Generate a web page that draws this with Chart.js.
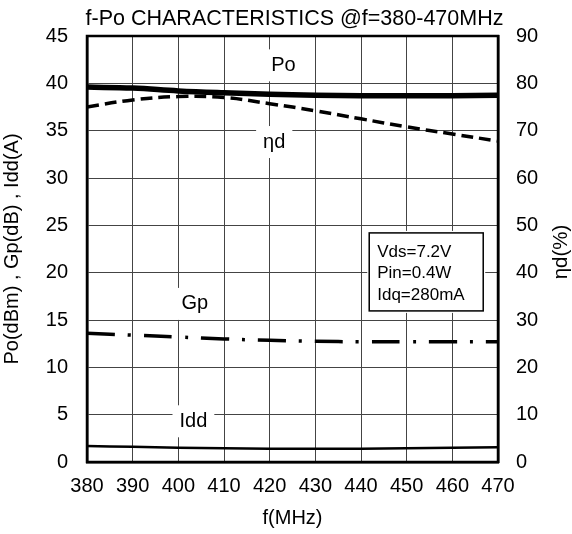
<!DOCTYPE html>
<html>
<head>
<meta charset="utf-8">
<script src="https://cdn.jsdelivr.net/npm/chart.js@4"></script>
<style>
  html, body { margin: 0; padding: 0; background: #fff; }
  #wrap { width: 572px; height: 534px; }
</style>
</head>
<body>
<div id="wrap"><canvas id="fPo"></canvas></div>
<script>
const freq = [380, 390, 400, 410, 420, 430, 440, 450, 460, 470];
const po   = [39.6, 39.5, 39.2, 39.0, 38.85, 38.75, 38.7, 38.7, 38.7, 38.75];
const eff  = [75.0, 76.5, 77.2, 77.0, 75.7, 74.2, 72.5, 70.8, 69.3, 67.8];
const gp   = [13.6, 13.4, 13.2, 13.0, 12.85, 12.75, 12.7, 12.7, 12.7, 12.7];
const idd  = [1.7, 1.6, 1.5, 1.45, 1.4, 1.4, 1.4, 1.45, 1.5, 1.55];

// text labels placed in data units (x, left-axis y)
const curveLabels = [
  { text: "Po",  x: 423.0, y: 41.9 },
  { text: "ηd",  x: 421.0, y: 33.8 },
  { text: "Gp",  x: 403.6, y: 16.7 },
  { text: "Idd", x: 403.3, y: 4.3 }
];
const condLines = ["Vds=7.2V", "Pin=0.4W", "Idq=280mA"];
const chartTitle = "f-Po CHARACTERISTICS @f=380-470MHz";
const rightTitle = "ηd(%)";

const FONT = "'Liberation Sans', Arial, sans-serif";

const overlay = {
  id: "overlay",
  afterDatasetsDraw(chart) {
    const ctx = chart.ctx;
    const xs = chart.scales.x, ys = chart.scales.y;
    const area = chart.chartArea;
    ctx.save();
    ctx.font = "20px " + FONT;
    ctx.textAlign = "center";
    ctx.textBaseline = "middle";
    curveLabels.forEach(l => {
      const px = xs.getPixelForValue(l.x), py = ys.getPixelForValue(l.y);
      const w = ctx.measureText(l.text).width + 14;
      ctx.fillStyle = "#fff";
      ctx.fillRect(px - w / 2, py - 16, w, 32);
      ctx.fillStyle = "#000";
      ctx.fillText(l.text, px, py);
    });
    // conditions box
    const bx = xs.getPixelForValue(441.8), by = ys.getPixelForValue(24.2);
    const bw = 114, bh = 78;
    ctx.fillStyle = "#fff";
    ctx.fillRect(bx - 2, by - 2, bw + 4, bh + 4);
    ctx.strokeStyle = "#000";
    ctx.lineWidth = 1.5;
    ctx.strokeRect(bx, by, bw, bh);
    ctx.fillStyle = "#000";
    ctx.font = "17px " + FONT;
    ctx.textAlign = "left";
    condLines.forEach((t, i) => ctx.fillText(t, bx + 8, by + 19 + i * 21.5));
    // outer frame
    ctx.lineWidth = 2.5;
    ctx.strokeRect(area.left, area.top, area.right - area.left, area.bottom - area.top);
    // chart title
    ctx.font = "21.5px " + FONT;
    ctx.textAlign = "center";
    ctx.textBaseline = "alphabetic";
    ctx.fillText(chartTitle, 294.5, 25);
    // right axis title, reading bottom to top like the left one
    ctx.font = "20.5px " + FONT;
    ctx.textBaseline = "middle";
    ctx.translate(561, 252);
    ctx.rotate(-Math.PI / 2);
    ctx.fillText(rightTitle, 0, 0);
    ctx.restore();
  }
};

const tickFont = { family: FONT, size: 20 };

new Chart(document.getElementById("fPo"), {
  type: "line",
  data: {
    datasets: [
      { label: "Po", data: po, yAxisID: "y", borderWidth: 5.5 },
      { label: "ηd", data: eff, yAxisID: "y2", borderWidth: 3.5, borderDash: [12, 6] },
      { label: "Gp", data: gp, yAxisID: "y", borderWidth: 3.5, borderDash: [28, 13, 3, 13] },
      { label: "Idd", data: idd, yAxisID: "y", borderWidth: 2.5 }
    ].map(d => Object.assign(d, {
      data: d.data.map((v, i) => ({ x: freq[i], y: v })),
      borderColor: "#000", pointRadius: 0, tension: 0.4, fill: false
    }))
  },
  options: {
    responsive: true,
    maintainAspectRatio: false,
    animation: false,
    layout: { padding: { top: 36 } },
    plugins: {
      legend: { display: false },
      tooltip: { enabled: false },
      title: { display: false }
    },
    scales: {
      x: {
        type: "linear", min: 380, max: 470,
        ticks: { stepSize: 10, color: "#000", font: tickFont, padding: 12 },
        grid: { color: "#444", lineWidth: 1, drawTicks: false },
        border: { color: "#000", width: 2.5 },
        title: { display: true, text: "f(MHz)", color: "#000", font: tickFont, padding: { top: 2 } },
        afterFit(s) { s.height = 72; }
      },
      y: {
        position: "left", min: 0, max: 45,
        ticks: { stepSize: 5, color: "#000", font: tickFont, padding: 19 },
        grid: { color: "#444", lineWidth: 1, drawTicks: false },
        border: { color: "#000", width: 2.5 },
        title: { display: true, text: "Po(dBm) , Gp(dB) , Idd(A)", color: "#000", font: tickFont, padding: 0 },
        afterFit(s) { s.width = 87; }
      },
      y2: {
        position: "right", min: 0, max: 90,
        ticks: { stepSize: 10, color: "#000", font: tickFont, padding: 18 },
        grid: { drawOnChartArea: false, drawTicks: false },
        border: { color: "#000", width: 2.5 },
        afterFit(s) { s.width = 74; }
      }
    }
  },
  plugins: [overlay]
});
</script>
</body>
</html>
